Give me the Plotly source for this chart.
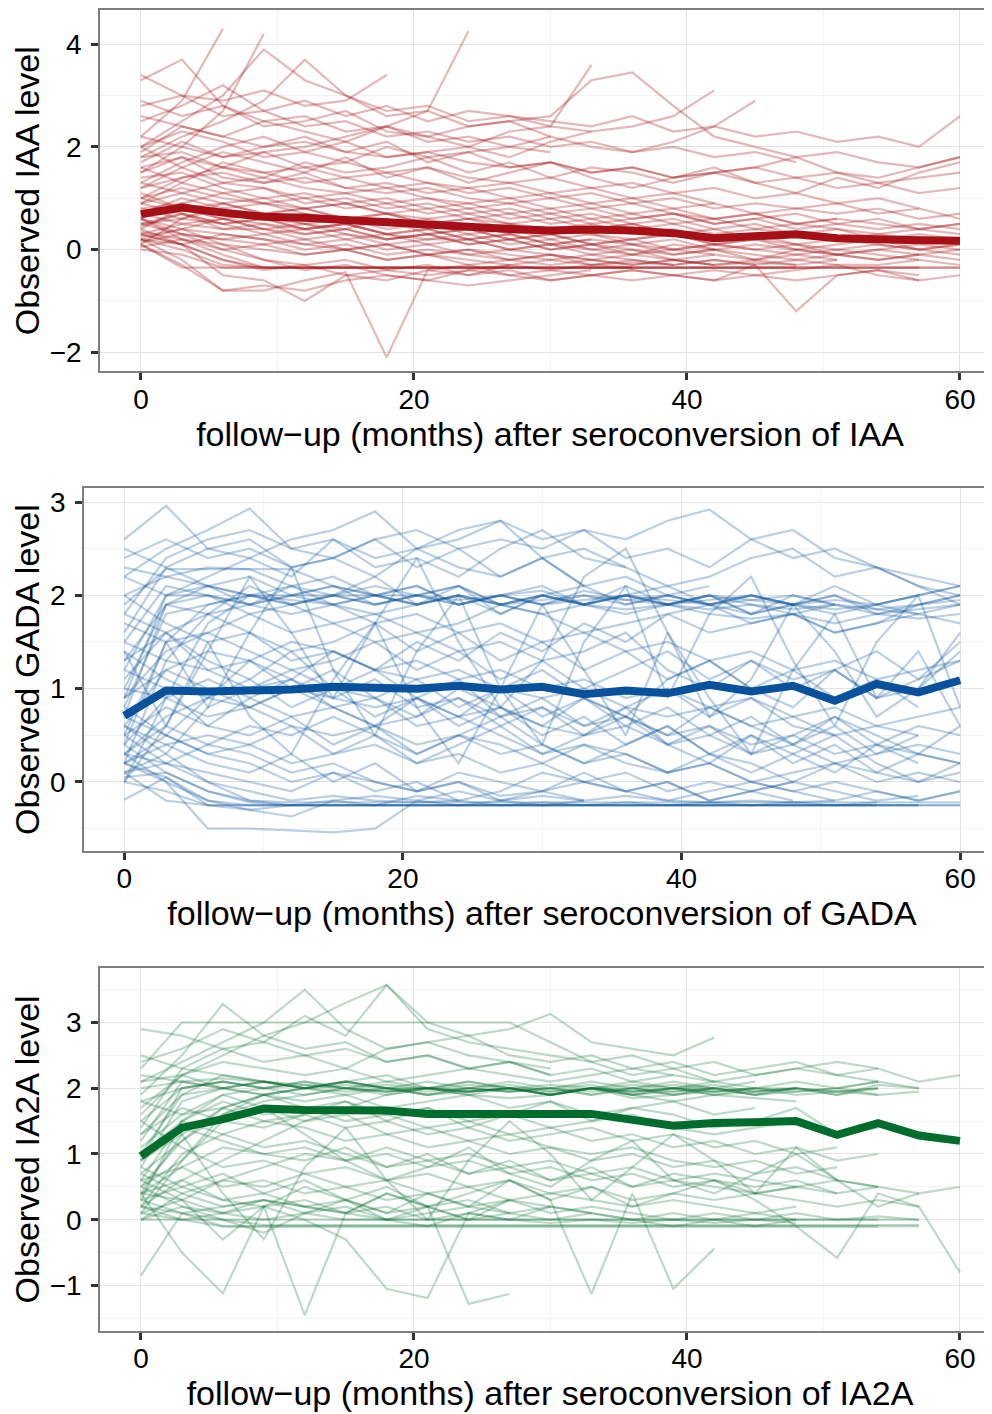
import plotly.graph_objects as go

# ---------------- data ----------------
MONTHS = [0, 3, 6, 9, 12, 15, 18, 21, 24, 27, 30, 33, 36, 39, 42, 45, 48, 51, 54, 57, 60]

IAA_MEAN = [0.69, 0.82, 0.72, 0.64, 0.62, 0.57, 0.52, 0.48, 0.44, 0.40, 0.37,
            0.39, 0.37, 0.32, 0.22, 0.27, 0.30, 0.22, 0.19, 0.18, 0.17]
GADA_MEAN = [0.71, 0.98, 0.97, 0.97, 0.99, 1.02, 1.01, 1.00, 1.03, 0.99, 1.02,
             0.94, 0.98, 0.95, 1.04, 0.97, 1.03, 0.87, 1.05, 0.96, 1.09]
IA2A_MEAN = [0.97, 1.40, 1.53, 1.69, 1.67, 1.66, 1.66, 1.61, 1.62, 1.63, 1.61,
             1.61, 1.53, 1.43, 1.47, 1.50, 1.50, 1.29, 1.47, 1.28, 1.20]

IAA_SUBJECTS = [
    [0.0, -0.1, -0.35, -0.35, -0.35, -0.35, -0.35, -0.35, -0.35, -0.35, -0.35, -0.35, -0.35, -0.35, -0.35, -0.35, -0.35, -0.35, -0.35, -0.35, -0.35],
    [0.3, 0.1, -0.2, -0.35, -0.35, -0.35, -0.35, -0.35, -0.35, -0.35, -0.35, -0.35, -0.35, -0.35, -0.35, -0.35, -0.35, -0.35, -0.35, -0.35, -0.35],
    [0.1, -0.35, -0.35, -0.35, -0.35, -0.35, -0.35, -0.35, -0.35, -0.35, -0.35, -0.35, -0.35, -0.35, -0.35, -0.35, -0.35],
    [0.6, 0.2, -0.1, -0.35, -0.35, -0.35, -0.35, -0.35, -0.35, -0.35, -0.35, -0.35, -0.35, -0.35, -0.35, -0.35, -0.35, -0.35, -0.35, -0.35],
    [0.2, 0.0, -0.3, -0.35, -0.35, -0.35, -0.35, -0.35, -0.35, -0.35, -0.35, -0.35, -0.35],
    [0.4, 0.1, -0.2, -0.4, -0.3, -0.5, -0.4, -0.3, -0.5, -0.4, -0.6, -0.5, -0.4, -0.5, -0.6, -0.5, -0.6, -0.5, -0.4, -0.5],
    [0.5, 0.3, 0.0, -0.2, -0.3, -0.2, -0.4, -0.5, -0.4, -0.3, -0.4, -0.5, -0.6, -0.5, -0.4, -0.5, -0.4, -0.3, -0.5, -0.6, -0.5],
    [0.2, -0.2, -0.8, -0.8, -0.6, -0.44, -2.1, -0.4, -0.3, -0.5, -0.4, -0.3, -0.35],
    [0.3, 0.1, -0.5, -0.6, -1.0, -0.5, -0.6, -0.4, -0.5, -0.3],
    [0.1, -0.3, -0.8, -0.7, -0.8, -0.6, -0.5, -0.6, -0.7, -0.6, -0.5, -0.4],
    [0.6, 0.4, 0.1, -0.2, -0.4, -0.3, -0.5, -0.6, -0.4, -0.5, -0.6, -0.5, -0.4, -0.5, -0.6, -0.3, -1.2, -0.5, -0.4, -0.6],
    [0.8, 0.9, 0.7, 0.6, 0.5, 0.6, 0.4, 0.5, 0.3, 0.4, 0.2, 0.3, 0.1, 0.2, 0.0, 0.1, 0.0, -0.1, 0.0, -0.1, 0.0],
    [0.5, 0.6, 0.5, 0.3, 0.4, 0.2, 0.3, 0.1, 0.2, 0.0, 0.1, -0.1, 0.0, -0.2, -0.1, -0.2, -0.1, -0.2],
    [1.0, 1.2, 1.0, 0.9, 0.8, 0.9, 0.7, 0.8, 0.6, 0.7, 0.5, 0.6, 0.4, 0.5, 0.3, 0.4, 0.3, 0.2, 0.3, 0.2, 0.2],
    [0.3, 0.5, 0.4, 0.4, 0.2, 0.3, 0.1, 0.2, 0.2, 0.0, 0.1, 0.0, -0.1, 0.1, 0.0, -0.2, 0.0, -0.1, -0.2, -0.1],
    [1.4, 1.5, 1.2, 1.0, 1.1, 0.9, 1.0, 0.8, 0.9, 0.7, 0.8, 0.6, 0.7, 0.5, 0.6, 0.4, 0.5, 0.4, 0.3, 0.4, 0.3],
    [0.2, 0.4, 0.3, 0.2, 0.1, 0.2, 0.0, 0.1, -0.1, 0.0, -0.1, -0.2, -0.1, -0.2, -0.3, -0.2, -0.3],
    [0.7, 1.0, 0.8, 0.9, 0.7, 0.6, 0.7, 0.5, 0.6, 0.5, 0.4, 0.5, 0.3, 0.4, 0.2, 0.3],
    [1.8, 1.9, 1.6, 1.5, 1.3, 1.4, 1.2, 1.3, 1.1, 1.2, 1.0, 1.1, 0.9, 1.0, 0.8, 0.9, 0.8, 0.7, 0.8, 0.6, 0.7],
    [0.9, 0.7, 0.5, 0.6, 0.4, 0.5, 0.3, 0.4, 0.2, 0.3, 0.1, 0.2, 0.1, 0.0, 0.1, 0.0, -0.1, 0.0, -0.1, -0.2],
    [1.2, 1.4, 1.5, 1.3, 1.4, 1.2, 1.1, 1.2, 1.0, 0.9, 1.0, 0.8, 0.9, 0.7, 0.6, 0.7, 0.5, 0.6],
    [0.4, 0.8, 0.6, 0.7, 0.5, 0.4, 0.6, 0.3, 0.4, 0.2, 0.3, 0.1, 0.2, 0.0, 0.1, 0.0, 0.1, -0.1, 0.0, 0.1, 0.0],
    [2.2, 2.0, 1.8, 1.9, 1.6, 1.7, 1.5, 1.6, 1.4, 1.3, 1.4, 1.2, 1.3, 1.1, 1.2, 1.0, 1.1, 0.9, 1.0, 0.8],
    [0.6, 0.3, 0.2, 0.3, 0.1, 0.0, 0.1, -0.1, 0.0, -0.2, -0.1, -0.3, -0.2, -0.3, -0.2, -0.3],
    [1.6, 1.3, 1.1, 1.2, 0.9, 1.0, 0.8, 0.9, 0.7, 0.8, 0.6, 0.7, 0.5, 0.6, 0.4, 0.5, 0.3, 0.4, 0.2, 0.3, 0.2],
    [0.1, 0.6, 0.9, 0.7, 0.8, 0.6, 0.7, 0.5, 0.6, 0.4],
    [1.1, 0.8, 0.6, 0.4, 0.5, 0.3, 0.2, 0.3, 0.1, 0.2, 0.0, 0.1, -0.1, 0.0, -0.1],
    [2.6, 2.4, 2.2, 2.0, 2.1, 1.9, 1.8, 1.9, 1.7, 1.6, 1.7, 1.5, 1.6, 1.4, 1.5, 1.3, 1.4, 1.2, 1.3, 1.1, 1.2],
    [0.9, 1.3, 1.7, 1.5, 1.6, 1.4, 1.5, 1.3, 1.2, 1.3, 1.1, 1.2, 1.0, 1.1, 0.9],
    [2.0, 2.3, 2.1, 1.8, 1.9, 1.7, 2.0, 1.8, 1.9, 1.6, 1.7, 1.5, 1.6, 1.4, 1.5, 1.6, 1.4, 1.5, 1.3, 1.4, 1.5],
    [3.4, 3.0, 2.6, 2.7, 2.4, 2.5, 2.2, 2.3, 2.1, 2.2, 2.0, 2.1, 1.9, 2.0, 1.8, 1.9, 1.7],
    [3.3, 3.7, 2.8, 2.5, 2.6, 2.3, 2.4, 2.1, 2.2, 2.0, 1.9],
    [2.2, 2.9, 4.3],
    [1.5, 2.0, 2.7, 4.2],
    [2.0, 2.5, 3.0, 3.9, 3.3, 3.0, 2.7, 2.8, 2.5, 2.6, 2.4, 2.3],
    [1.8, 2.2, 2.5, 2.9, 3.7, 3.0, 2.6, 2.7, 2.4, 2.5, 2.2],
    [2.8, 3.0, 2.9, 3.1, 2.8, 2.9, 3.4],
    [1.0, 1.4, 1.6, 1.9, 2.0, 2.2, 2.4, 2.7, 4.26],
    [2.5, 2.8, 3.2, 2.7, 2.9, 2.6, 2.8, 2.5, 2.7, 2.6, 2.5, 2.4, 2.6, 2.3, 2.4, 2.2, 2.3, 2.1, 2.2, 2.0, 2.6],
    [2.9, 2.6, 2.8, 2.4, 2.5, 2.7, 2.3, 2.2, 2.4, 2.5, 2.6, 3.3, 3.45, 2.8, 2.2, 2.0, 1.8, 1.9, 1.7, 1.6, 1.8],
    [1.9, 2.4, 2.2, 2.5, 2.3, 2.1, 2.4, 2.2, 2.0, 2.3, 2.4, 3.6],
    [1.3, 1.7, 2.0, 2.2, 1.9, 2.1, 1.8, 1.9, 2.0, 1.8, 2.1, 2.3, 2.4, 2.6, 3.1],
    [1.7, 2.1, 1.8, 2.0, 2.2, 1.9, 2.1, 1.7, 1.9, 2.0, 2.2, 2.0, 1.9, 2.1, 2.4, 2.9],
    [1.5, 1.8, 1.6, 1.4, 1.7, 1.5, 1.6, 1.8, 1.5, 1.7, 1.4, 1.6, 1.5, 1.3, 1.5, 1.6, 1.8, 1.5, 1.4, 1.6, 1.8],
    [1.2, 1.6, 1.9, 1.7, 1.5, 1.8, 1.4, 1.6, 1.3, 1.5, 1.7, 1.4, 1.2, 1.4, 1.6, 1.3, 1.1, 1.4, 1.2, 1.5, 1.7],
    [0.15, 0.3, 0.2, 0.1, 0.2, 0.0, 0.1, -0.1, 0.0, -0.1, -0.2, -0.1, -0.2, -0.3, -0.2, -0.3, -0.2, -0.3, -0.3, -0.2, -0.3],
    [0.5, 0.7, 0.4, 0.5, 0.3, 0.4, 0.2, 0.3, 0.4, 0.2, 0.3, 0.1, 0.2, 0.3, 0.1, 0.2, 0.0, 0.1, 0.2, 0.0, 0.1],
    [0.05, 0.2, 0.1, 0.0, -0.1, 0.0, -0.2, -0.1, -0.2, -0.3, -0.2, -0.3, -0.25, -0.3],
    [0.7, 0.5, 0.6, 0.4, 0.3, 0.4, 0.2, 0.3, 0.1, 0.2, 0.0, 0.1, 0.0, -0.1, 0.0],
    [1.0, 0.8, 0.9, 0.7, 0.8, 0.6, 0.5, 0.6, 0.4, 0.5, 0.3, 0.4, 0.5, 0.3, 0.2, 0.3, 0.1, 0.2, 0.1, 0.0, 0.1],
    [0.25, 0.4, 0.6, 0.5, 0.4, 0.5, 0.3, 0.4, 0.2, 0.3, 0.1, 0.2],
    [0.6, 0.9, 1.1, 0.9, 1.0, 0.8, 0.9, 0.7, 0.8, 0.6, 0.7, 0.5, 0.6, 0.7, 0.5, 0.6, 0.4, 0.5, 0.6, 0.4, 0.5],
    [0.35, 0.2, 0.0, 0.1, -0.1, 0.0, -0.2, -0.1, -0.3, -0.2, -0.3, -0.2, -0.3, -0.2, -0.3, -0.25, -0.3, -0.2],
    [1.3, 1.1, 0.9, 1.0, 0.8, 0.9, 0.7, 0.6, 0.7, 0.5, 0.6, 0.4, 0.5, 0.3, 0.4, 0.2, 0.3, 0.2],
    [0.8, 0.6, 0.8, 0.6, 0.7, 0.5, 0.6, 0.4, 0.5, 0.3, 0.4, 0.3, 0.2, 0.3, 0.1, 0.2, 0.1, 0.0, 0.1, 0.0, -0.1],
    [0.45, 0.7, 0.5, 0.6, 0.4, 0.5, 0.3, 0.2, 0.3, 0.1, 0.2, 0.0, 0.1, -0.1, 0.0, -0.1, -0.2, -0.1, -0.2, -0.1, -0.2],
    [1.6, 1.8, 1.4, 1.3, 1.5, 1.2, 1.3, 1.1, 1.2, 1.0, 1.1, 0.9, 1.0, 0.8, 0.9, 0.7, 0.8, 0.9, 0.7, 0.8, 0.6],
    [2.0, 1.6, 1.3, 1.4, 1.2, 1.1, 1.2, 1.0, 0.9, 1.0, 0.8, 0.9, 0.7, 0.8, 0.6, 0.7, 0.5, 0.6, 0.5, 0.4, 0.5],
    [0.9, 1.1, 1.3, 1.2, 1.0, 1.1, 0.9, 1.0, 0.8, 0.9, 0.7, 0.8, 0.6, 0.7, 0.5, 0.6, 0.7, 0.5, 0.4, 0.5, 0.4],
    [0.2, 0.1, 0.3, 0.2, 0.0, 0.1, -0.1, 0.0, -0.1, -0.2, -0.1, -0.2, -0.3, -0.2, -0.3],
]

GADA_SUBJECTS = [
    [0.0, -0.1, -0.25, -0.25, -0.25, -0.25, -0.25, -0.25, -0.25, -0.25, -0.25, -0.25, -0.25, -0.25, -0.25, -0.25, -0.25, -0.25, -0.25, -0.25, -0.25],
    [0.2, 0.0, -0.2, -0.25, -0.25, -0.25, -0.25, -0.25, -0.25, -0.25, -0.25, -0.25, -0.25, -0.25, -0.25, -0.25, -0.25, -0.25, -0.25, -0.25],
    [0.4, 0.1, -0.1, -0.22, -0.25, -0.25, -0.25, -0.25, -0.25, -0.25, -0.25, -0.25, -0.25, -0.25, -0.25, -0.25, -0.25, -0.25, -0.25, -0.25, -0.25],
    [0.1, -0.2, -0.25, -0.25, -0.25, -0.25, -0.25, -0.25, -0.25, -0.25, -0.25, -0.25, -0.25, -0.25, -0.25, -0.25, -0.25, -0.25, -0.25],
    [0.6, 0.3, 0.0, -0.2, -0.22, -0.22, -0.22, -0.22, -0.22, -0.22, -0.22, -0.22, -0.22, -0.22, -0.22, -0.22, -0.22, -0.22, -0.22, -0.22, -0.22],
    [-0.19, 0.05, -0.2, -0.3, -0.25, -0.2, -0.15, -0.2, -0.1, -0.2, -0.15, -0.2],
    [0.3, 0.0, -0.5, -0.5, -0.52, -0.54, -0.5, -0.2, -0.25, -0.2, -0.25, -0.2],
    [0.2, 0.05, -0.25, -0.3, -0.37, -0.2, -0.25, -0.15, -0.2],
    [0.5, 0.2, 0.1, 0.0, -0.1, 0.1, 0.0, -0.1, 0.0, -0.2, -0.1, 0.0, -0.1, -0.2, -0.1, 0.0, -0.1, -0.2, -0.1, -0.2, -0.1],
    [0.8, 0.5, 0.3, 0.2, 0.0, 0.1, -0.1, 0.0, -0.2, -0.1, 0.1, 0.0, -0.1, 0.0, -0.2, -0.1, -0.2],
    [1.0, 0.9, 0.7, 0.8, 0.6, 0.5, 0.6, 0.4, 0.5, 0.3, 0.4, 0.2, 0.3, 0.1, 0.2, 0.0, 0.1, 0.2, 0.0, 0.1, 0.0],
    [0.3, 0.7, 0.9, 0.8, 1.0, 0.9, 1.1, 0.8, 0.9, 0.7, 0.8, 0.6, 0.7, 0.5, 0.6, 0.4, 0.5, 0.3, 0.4, 0.3, 0.2],
    [1.5, 1.3, 1.2, 1.0, 1.1, 0.9, 0.8, 0.9, 0.7, 0.8, 0.6, 0.5, 0.6, 0.4, 0.5, 0.3, 0.4, 0.2, 0.3, 0.4, 0.3],
    [0.6, 1.2, 1.4, 1.3, 1.5, 1.4, 1.2, 1.3, 1.1, 1.2, 1.0, 1.1, 0.9, 1.0, 0.8, 0.9, 0.7, 0.8, 0.6, 0.7, 0.8],
    [0.2, 0.4, 0.5, 0.4, 0.6, 0.3, 0.4, 0.2, 0.3, 0.1, 0.2, 0.0, 0.1, -0.1, 0.0, -0.1, 0.0],
    [2.0, 1.7, 1.5, 1.6, 1.3, 1.4, 1.2, 1.1, 1.2, 1.0, 0.9, 1.0, 0.8, 0.7, 0.8, 0.6, 0.7, 0.5, 0.6, 0.5],
    [0.9, 1.4, 1.6, 1.8, 1.6, 1.7, 1.5, 1.6, 1.4, 1.5, 1.3, 1.4, 1.6, 1.2, 1.0, 1.3, 1.1, 1.2, 0.9, 1.1, 1.3],
    [0.1, 0.3, 0.8, 1.0, 1.2, 1.0, 0.9, 1.1, 0.8, 1.0, 0.7, 0.9, 0.6, 0.8, 0.5, 0.7, 0.4, 0.6, 0.3, 0.5],
    [1.2, 1.0, 0.6, 0.5, 0.7, 0.4, 0.6, 0.3, 0.5, 0.4, 0.2, 0.4, 0.3, 0.1, 0.3, 0.2, 0.0, 0.2, 0.1, 0.0, 0.1],
    [0.4, 0.9, 1.1, 0.9, 0.7, 0.8, 0.6, 0.7, 0.9, 0.6, 0.8, 0.5, 0.7, 0.4, 0.6, 0.3, 0.5, 0.7, 0.4, 0.6, 0.5],
    [1.7, 1.5, 1.6, 1.4, 1.2, 1.3, 1.5, 1.2, 1.4, 1.1, 1.3, 1.0, 1.2, 1.4, 1.1, 1.3, 1.0, 1.2, 0.9, 1.0, 1.4],
    [0.7, 0.5, 0.3, 0.4, 0.2, 0.3, 0.5, 0.2, 0.4, 0.6, 0.3, 0.5, 0.8, 0.4, 0.2, 0.5, 0.3, 0.1, 0.4, 0.2],
    [1.3, 1.6, 1.3, 1.1, 1.4, 1.0, 1.2, 0.9, 1.1, 0.7, 0.9, 0.6, 0.8, 1.0, 0.7, 0.9, 0.6, 0.5],
    [0.5, 0.8, 0.6, 0.9, 1.1, 0.8, 0.6, 0.9, 0.7, 1.0, 1.2, 0.9, 0.7, 1.1, 1.3, 1.0, 0.8, 1.2, 1.4, 1.1, 1.5],
    [1.2, 2.0, 2.0, 1.9, 2.0, 2.0, 1.9, 2.0, 1.95, 2.0, 1.9, 2.0, 1.95, 1.9, 2.0, 1.95, 1.9, 2.0, 1.85, 1.9, 1.95],
    [0.8, 1.8, 1.9, 2.0, 1.9, 2.0, 2.0, 1.9, 2.0, 1.9, 2.0, 1.9, 1.85, 1.9, 2.0, 1.9, 1.85, 1.9, 1.8, 1.85, 1.9],
    [1.5, 2.1, 2.0, 1.9, 2.1, 1.9, 2.0, 2.1, 1.9, 2.0, 2.05, 1.9, 2.0, 1.9, 1.95, 2.0, 1.9, 1.8, 1.9, 2.0, 2.1],
    [2.3, 2.2, 2.1, 2.0, 2.0, 2.1, 2.0, 2.0, 1.9, 2.0, 1.9, 1.95, 2.0, 1.9, 1.85, 1.9, 1.8, 1.9, 1.85, 1.8, 1.9],
    [0.5, 1.5, 1.9, 2.0, 1.95, 1.9, 2.0, 1.9, 2.0, 1.9, 1.95, 2.0, 1.9, 2.0, 1.9, 1.8, 1.9, 1.85, 1.9, 1.8],
    [1.9, 2.28, 2.28, 2.28, 2.28, 2.1, 2.0, 2.1, 1.9, 2.0, 2.1, 1.9, 2.0, 1.9, 2.0, 1.8, 1.9, 2.0, 1.8, 1.9, 2.0],
    [1.0, 1.9, 1.8, 1.9, 2.0, 1.9, 1.8, 1.9, 2.0, 1.9, 1.8, 1.9, 1.8, 1.9, 1.8, 1.75, 1.8, 1.7, 1.8, 1.75, 1.8],
    [2.5, 2.3, 2.1, 2.2, 2.0, 2.1, 1.9, 2.0, 2.1, 1.9, 2.0, 1.9, 2.0, 2.1, 1.9, 2.0, 1.9],
    [0.2, 1.3, 1.8, 2.1, 1.9, 2.0, 2.2, 1.9, 2.0, 1.8, 2.0, 2.1, 1.9, 2.0, 1.9, 2.0, 1.9, 2.1, 1.9, 2.0, 2.1],
    [2.6, 2.96, 2.5, 2.6, 2.3, 2.4, 2.2, 2.5, 2.3, 2.2, 2.4, 2.1, 2.2, 2.0, 2.1],
    [2.2, 2.5, 2.7, 2.93, 2.5, 2.4, 2.6, 2.3, 2.5, 2.2, 2.4, 2.1],
    [1.6, 2.3, 2.5, 2.4, 2.6, 2.7, 2.9, 2.5, 2.6, 2.8, 2.4, 2.5, 2.3],
    [2.4, 2.6, 2.4, 2.5, 2.3, 2.4, 2.6, 2.7, 2.5, 2.6, 2.5, 2.7, 2.6, 2.8, 2.92, 2.6, 2.4, 2.5, 2.3, 2.2, 2.1],
    [1.8, 2.4, 2.6, 2.7, 2.5, 2.6, 2.4, 2.5, 2.7, 2.8, 2.6, 2.7, 2.4, 2.5, 2.3, 2.6, 2.7, 2.4, 2.3, 2.1, 2.0],
    [0.9, 2.0, 2.2, 2.4, 2.2, 2.6, 2.3, 2.4, 2.2, 2.5, 2.7, 2.4, 2.3, 2.1, 2.2, 2.4, 2.5, 2.2, 2.3, 2.1, 1.9],
    [0.4, 1.5, 0.8, 1.6, 2.3, 1.2, 0.5, 1.4, 2.0, 1.0, 0.4, 1.5, 2.1, 0.9, 1.8, 2.2, 1.3, 0.6, 1.5, 2.0, 0.8],
    [1.4, 0.6, 1.5, 0.7, 0.3, 1.1, 1.7, 0.8, 0.2, 1.0, 1.9, 1.2, 0.5, 1.6, 0.9, 0.3, 1.2, 1.8, 0.9, 1.4, 0.6],
    [0.0, 0.6, 1.4, 2.2, 1.6, 0.9, 1.7, 2.4, 1.5, 0.8, 1.3, 2.2, 2.5, 1.6, 0.7, 1.1, 1.9, 1.4, 0.7, 1.0, 1.6],
    [0.3, 0.6, 0.4, 0.3, 0.1, 0.2, 0.0, -0.1, 0.0, -0.15, -0.1, -0.2, -0.15, -0.2, -0.22, -0.2, -0.22, -0.2],
    [0.1, 0.2, 0.0, -0.1, -0.2, -0.15, -0.2, -0.22, -0.2, -0.25, -0.22, -0.25, -0.22, -0.25, -0.22, -0.25, -0.22, -0.25, -0.22],
    [1.8, 1.6, 1.2, 1.3, 1.0, 0.8, 0.9, 0.6, 0.7, 0.5, 0.3, 0.4, 0.2, 0.1, 0.2, 0.0, -0.1, 0.0, -0.1, -0.2, -0.1],
    [0.0, 0.9, 1.7, 2.0, 2.1, 2.0, 1.9, 2.0, 2.1, 1.9, 2.0, 1.9, 2.0, 1.95, 1.9, 2.0, 1.9, 1.95, 1.9, 2.0],
    [0.7, 1.9, 2.1, 2.0, 1.9, 2.0, 2.1, 2.0, 1.9, 2.0, 1.9, 2.05, 1.95, 2.0, 1.9, 1.95, 2.0, 1.9],
    [2.2, 2.0, 2.1, 1.9, 1.8, 1.9, 1.7, 1.8, 1.6, 1.7, 1.5, 1.6, 1.4, 1.5, 1.3, 1.4, 1.2, 1.3, 1.1, 1.2, 1.3],
    [1.1, 1.6, 1.8, 1.6, 1.4, 1.5, 1.7, 1.4, 1.6, 1.3, 1.5, 1.2, 1.4, 1.1, 1.3, 1.0, 1.2, 0.9, 1.1, 0.8],
    [0.2, 0.5, 0.9, 1.3, 1.1, 1.4, 1.2, 1.5, 1.3, 1.6, 1.4, 1.7, 1.5, 1.8, 1.6, 1.7, 1.8, 1.6, 1.7, 1.8, 1.7],
    [0.6, 0.4, 0.2, 0.1, 0.3, 0.0, 0.2, -0.1, 0.1, 0.0, -0.1, 0.1, -0.1, 0.0, -0.2, -0.1, 0.0, -0.1, -0.2, -0.15],
    [1.4, 1.1, 0.9, 1.1, 0.8, 1.0, 0.7, 0.9, 0.6, 0.8, 0.5, 0.7, 0.4, 0.6, 0.3, 0.5, 0.2, 0.4, 0.1, 0.3, 0.2],
    [0.9, 1.2, 1.0, 0.8, 1.0, 1.2, 0.9, 0.7, 1.0, 0.8, 0.6, 0.9, 0.7, 0.5, 0.8, 0.6, 0.4, 0.7, 0.5, 0.3, 0.6],
    [0.3, 0.2, 0.4, 0.6, 0.5, 0.7, 0.5, 0.3, 0.5, 0.7, 0.4, 0.2, 0.4, 0.6, 0.3, 0.1, 0.3, 0.5, 0.2, 0.0, 0.2],
    [2.0, 2.2, 2.3, 2.28, 2.1, 2.2, 2.0, 1.9, 2.1, 1.8, 2.0, 1.9, 2.1, 1.9, 2.0, 1.8, 2.0, 1.9],
    [1.3, 1.9, 2.0, 1.8, 1.9, 1.7, 1.8, 1.6, 1.7, 1.9, 1.8, 1.6, 1.7, 1.8, 1.9, 1.7, 1.8, 1.6, 1.7, 1.9, 2.0],
    [0.05, 0.1, -0.1, -0.2, -0.25, -0.25, -0.25, -0.25, -0.25, -0.25, -0.25, -0.25, -0.25, -0.25, -0.25, -0.25, -0.25, -0.25, -0.25, -0.25],
]

IA2A_SUBJECTS = [
    [1.5, 2.0, 2.1, 2.0, 2.05, 2.0, 1.95, 2.0, 2.0, 1.95, 2.0, 1.9, 2.0, 1.95, 2.0, 1.9, 1.95, 2.0, 1.9, 1.95],
    [2.0, 2.1, 2.0, 2.1, 2.0, 2.05, 2.0, 2.1, 2.0, 1.95, 2.0, 2.05, 1.9, 2.0, 1.95, 2.0, 1.9, 1.95, 2.0],
    [0.8, 1.8, 2.0, 2.1, 2.0, 1.95, 2.0, 1.9, 2.0, 2.05, 1.95, 2.0, 1.9, 1.95, 2.0, 1.9, 2.0, 1.95, 1.9],
    [1.2, 2.1, 2.15, 2.1, 2.0, 2.1, 2.0, 1.95, 2.0, 2.1, 2.0, 1.95, 2.0, 2.1, 2.0, 1.9, 2.0],
    [0.3, 1.5, 1.9, 2.0, 2.1, 2.0, 1.9, 2.0, 1.95, 2.0, 1.9, 2.0, 2.05, 2.0, 1.9, 2.0, 1.95, 2.0, 2.1, 2.0],
    [2.2, 2.1, 2.0, 1.9, 2.0, 2.1, 2.0, 2.0, 1.9, 2.0, 2.05, 2.0, 1.95, 2.0, 2.1, 2.0, 2.0, 1.95, 2.0],
    [1.8, 2.0, 2.1, 2.0, 1.9, 2.0, 2.05, 2.0, 1.95, 2.0, 1.9, 2.0, 2.0, 1.9, 1.95, 2.0],
    [0.5, 1.2, 1.7, 1.9, 2.0, 2.1, 2.0, 1.9, 2.0, 1.95, 2.0, 2.1, 2.0, 1.9, 2.0, 1.95, 2.0, 1.9, 2.05, 2.0],
    [1.0, 1.9, 2.2, 2.1, 2.0, 1.9, 2.0, 2.0, 2.1, 2.0, 1.9, 2.0, 1.95, 2.0, 2.0, 2.1],
    [1.6, 2.2, 2.0, 2.1, 2.05, 2.0, 2.1, 2.0, 1.95, 2.0, 2.0, 1.9, 2.0, 2.05, 2.0],
    [2.5, 2.3, 2.2, 2.1, 2.0, 2.1, 2.2, 2.0, 2.1, 2.0, 1.9, 2.0, 2.1, 2.0, 1.95, 2.0, 2.1, 2.0, 2.1],
    [0.1, 0.9, 1.6, 1.8, 1.9, 2.0, 1.95, 2.0, 1.9, 1.85, 1.9, 2.0, 1.9, 1.8, 1.9, 1.85, 1.8],
    [2.9, 2.8, 2.6, 2.7, 2.5, 2.6, 2.4, 2.5, 2.3, 2.4, 2.2, 2.3, 2.1, 2.2],
    [2.3, 3.0, 3.0, 3.0, 3.0, 3.0, 3.0, 3.0, 3.0, 3.0, 2.7, 2.4, 2.2, 2.3, 2.1],
    [1.9, 2.5, 3.28, 2.8, 2.6, 2.7, 2.4, 2.5, 2.3, 2.4, 2.2],
    [2.1, 2.4, 2.7, 3.0, 3.5, 2.9, 2.6, 2.7, 2.5, 2.4, 2.3],
    [1.7, 2.2, 2.5, 2.8, 3.0, 3.3, 3.57, 3.0, 2.8, 2.9, 3.13, 2.7, 2.6, 2.5, 2.77],
    [2.4, 2.6, 2.9, 2.7, 3.1, 2.8, 3.57, 2.9, 2.7, 2.6, 2.5, 2.4, 2.5, 2.3, 2.4, 2.2, 2.3, 2.4, 2.3],
    [1.4, 2.3, 2.6, 2.4, 2.5, 2.3, 2.6, 2.7, 2.8, 2.5, 2.4, 2.5, 2.3, 2.4, 2.2, 2.3, 2.4, 2.2, 2.3, 2.1, 2.2],
    [0.6, 1.5, 1.8, 1.6, 1.7, 1.5, 1.6, 1.4, 1.5, 1.3, 1.4, 1.2, 1.3, 1.1, 1.2, 1.0, 1.1, 0.9, 1.0],
    [0.2, 1.0, 1.3, 1.5, 1.4, 1.2, 1.3, 1.1, 1.2, 1.0, 1.1, 0.9, 1.0, 0.8, 0.9, 0.7, 0.8, 0.6],
    [1.3, 1.7, 1.5, 1.4, 1.6, 1.8, 1.5, 1.7, 1.4, 1.6, 1.8, 1.5, 1.7, 1.6, 1.4, 1.5, 1.7, 1.3],
    [0.4, 0.8, 1.1, 1.0, 0.9, 1.1, 0.8, 1.0, 0.7, 0.9, 0.6, 0.8, 0.5, 0.7, 0.6, 0.5, 0.6, 0.4, 0.5, 0.4, 0.5],
    [0.9, 1.4, 1.2, 1.0, 1.1, 0.9, 1.0, 0.8, 0.9, 0.7, 0.8, 0.6, 0.7, 0.5, 0.6, 0.4, 0.5],
    [0.0, 0.4, 0.6, 0.5, 0.7, 0.5, 0.6, 0.4, 0.5, 0.3, 0.4, 0.3, 0.2, 0.3, 0.2, 0.1, 0.2],
    [1.1, 1.6, 1.9, 1.7, 1.5, 1.6, 1.3, 1.4, 1.2, 1.3, 1.1, 1.0, 1.1, 0.9, 0.8, 0.9, 0.7, 0.8],
    [0.3, 0.5, 0.3, 0.4, 0.2, 0.3, 0.1, 0.2, 0.0, 0.1, 0.2, 0.1, 0.0, 0.1, 0.0, 0.1, 0.0],
    [0.7, 1.2, 1.6, 1.9, 1.7, 1.8, 1.6, 1.7, 1.5, 1.6, 1.4, 1.5, 1.6, 1.4, 1.3, 1.4, 1.5, 1.3, 1.4],
    [1.5, 1.1, 0.8, 0.9, 0.7, 0.8, 0.6, 0.7, 0.5, 0.6, 0.4, 0.5, 0.3, 0.4, 0.3, 0.4, 0.3, 0.2, 0.3, 0.2],
    [0.5, 0.9, 1.5, 1.7, 1.3, 0.9, 0.6, 0.8, 1.1, 0.7, 0.5, 0.9, 1.2, 0.6, 0.4, 0.7, 1.0, 0.6, 0.5],
    [0.1, 0.0, -0.1, -0.1, -0.1, -0.1, -0.1, -0.1, -0.1, -0.1, -0.1, -0.1, -0.1, -0.1, -0.1, -0.1, -0.1, -0.1, -0.1, -0.1],
    [0.3, 0.1, -0.1, -0.1, -0.1, -0.1, -0.1, -0.1, -0.1, -0.1, -0.1, -0.1, -0.1, -0.1, -0.1, -0.1, -0.1, -0.1, -0.1],
    [0.0, 0.0, 0.0, 0.0, 0.0, 0.0, 0.0, 0.0, 0.0, 0.0, 0.0, 0.0, 0.0, 0.0, 0.0, 0.0, 0.0, 0.0, 0.0, 0.0],
    [0.5, 0.2, 0.0, -0.08, -0.08, -0.08, -0.08, -0.08, -0.08, -0.08, -0.08, -0.08, -0.08, -0.08, -0.08, -0.08, -0.08, -0.08, -0.08, -0.08],
    [-0.85, 0.1, 0.2, 0.3, 0.2, 0.1, 0.0, -0.1, 0.1, 0.0, 0.2, 0.1],
    [0.4, -0.5, -1.12, 0.2, 0.3, 0.1, 0.4, 0.2, 0.0, 0.3],
    [0.6, 0.3, -0.3, 0.2, -1.45, 0.1, 0.4, 0.2, 0.3, 0.1],
    [0.4, 0.3, 0.1, 0.2, 0.0, -0.3, -1.05, -1.19, 0.1, 0.3, 0.2],
    [0.2, 0.1, 0.0, -0.2, 0.1, 0.3, 0.0, 0.2, -1.28, -1.13],
    [0.4, 0.6, 0.3, 0.2, 0.5, 0.3, 0.1, 0.4, 0.2, 0.6, 0.3, -1.13, 0.4, -1.05, -0.44],
    [0.8, 0.5, 0.7, 0.4, 0.6, 0.3, 0.5, 0.2, 0.4, 0.6, 0.3, 0.5, 0.2, 0.4, 0.6, 0.3, -0.1, -0.58, 0.4, 0.2, -0.8],
    [0.9, 1.3, 0.4, -0.3, 0.8, 1.4, 0.6, 0.0, 0.9, 1.5, 1.0, 0.3, 0.8, 1.3, 0.9, 0.4, 1.1, 0.6, 0.2, 0.4],
    [0.2, 0.6, 0.9, 1.2, 1.5, 1.7, 1.9, 2.0, 1.95, 2.0, 1.9, 2.0, 1.95, 2.0, 1.9, 1.95, 2.0],
    [0.9, 2.0, 2.1, 2.0, 2.1, 2.0, 1.95, 2.0, 2.05, 2.0, 1.95, 2.0, 1.9, 2.0, 2.05, 1.95, 2.0, 1.9, 2.0],
    [1.3, 1.9, 2.0, 1.9, 2.0, 2.1, 2.0, 1.9, 1.95, 2.0, 1.9, 2.0, 1.85, 1.9, 2.0],
    [0.0, 0.2, 0.1, 0.3, 0.2, 0.1, 0.2, 0.0, 0.1, 0.0, -0.05, 0.0, -0.05, 0.0, -0.05, 0.0, -0.05],
    [0.6, 0.8, 0.5, 0.6, 0.4, 0.5, 0.3, 0.4, 0.2, 0.3, 0.1, 0.2, 0.1, 0.0, 0.1, 0.0, 0.1, 0.0, 0.05, 0.0],
    [1.8, 1.6, 1.7, 1.5, 1.6, 1.4, 1.5, 1.3, 1.4, 1.2, 1.3, 1.4, 1.2, 1.3, 1.1, 1.2, 1.0, 1.1],
    [0.4, 1.3, 1.7, 1.9, 1.8, 1.9, 1.7, 1.8, 1.9, 1.7, 1.8, 1.6, 1.7, 1.8, 1.6, 1.7],
    [0.1, 0.3, 0.6, 0.8, 1.0, 0.9, 1.1, 0.9, 1.0, 0.8, 0.9, 0.7, 0.8, 0.6, 0.7, 0.6, 0.5, 0.6, 0.5],
    [2.1, 2.2, 2.4, 2.3, 2.2, 2.3, 2.1, 2.2, 2.3, 2.2, 2.1, 2.2, 2.3, 2.2, 2.1, 2.2, 2.3, 2.2, 2.1],
    [0.2, 0.0, 0.1, 0.0, 0.1, 0.0, 0.0, 0.0, 0.0, 0.0, 0.0, 0.0, 0.0, 0.0, 0.0, 0.0, 0.0, 0.0, 0.0],
    [1.0, 1.5, 1.3, 1.1, 1.2, 1.0, 0.8, 0.9, 0.7, 0.8, 0.6, 0.7, 0.5, 0.6, 0.5, 0.4, 0.5, 0.4],
    [0.7, 0.4, 0.2, 0.3, 0.1, 0.2, 0.0, 0.1, 0.2, 0.1, 0.0, 0.1, 0.0, -0.1, 0.0, -0.1, 0.0],
]

Y_TITLES = ["Observed IAA level", "Observed GADA level", "Observed IA2A level"]
X_TITLES = ["follow\u2212up (months) after seroconversion of IAA",
            "follow\u2212up (months) after seroconversion of GADA",
            "follow\u2212up (months) after seroconversion of IA2A"]

# ---------------- styling / layout ----------------
# The page body has an 8px margin, so the figure's own pixel grid is offset by 8px.
COLORS = [(165, 15, 21), (8, 81, 156), (0, 109, 44)]
THIN_ALPHA = [0.3, 0.28, 0.26]
X_DOMAINS = [[0.09274, 1.0], [0.07661, 1.0], [0.09274, 1.0]]
Y_DOMAINS = [[0.74399, 1.0], [0.40453, 0.66124], [0.06457, 0.32157]]
X_RANGES = [[-3.0, 62.93], [-2.89, 62.86], [-3.0, 62.93]]
Y_RANGES = [[-2.375, 4.667], [-0.738, 3.147], [-1.69, 3.83]]
Y_DTICK = [2, 1, 1]

FONT = "Liberation Sans, Arial, Helvetica, sans-serif"

fig = go.Figure()
panels = [(IAA_SUBJECTS, IAA_MEAN), (GADA_SUBJECTS, GADA_MEAN), (IA2A_SUBJECTS, IA2A_MEAN)]
for i, (subjects, mean) in enumerate(panels):
    ax = "" if i == 0 else str(i + 1)
    r, g, b = COLORS[i]
    thin = f"rgba({r},{g},{b},{THIN_ALPHA[i]})"
    for traj in subjects:
        fig.add_trace(go.Scatter(x=MONTHS[:len(traj)], y=traj, mode="lines",
                                 line=dict(color=thin, width=2.2),
                                 xaxis="x" + ax, yaxis="y" + ax,
                                 hoverinfo="skip", showlegend=False))
    fig.add_trace(go.Scatter(x=MONTHS, y=mean, mode="lines",
                             line=dict(color=f"rgb({r},{g},{b})", width=8),
                             xaxis="x" + ax, yaxis="y" + ax, showlegend=False))

layout = dict(width=992, height=1414, margin=dict(l=0, r=0, t=0, b=0),
              paper_bgcolor="white", plot_bgcolor="white", showlegend=False,
              font=dict(family=FONT, color="black", size=28))
for i in range(3):
    ax = "" if i == 0 else str(i + 1)
    layout["xaxis" + ax] = dict(
        domain=X_DOMAINS[i], range=X_RANGES[i], anchor="y" + ax,
        tick0=0, dtick=20, ticks="outside", ticklen=7, tickwidth=2.5, tickcolor="#333333",
        ticklabelstandoff=-5,
        showline=True, linecolor="#7f7f7f", linewidth=1.5, mirror=True,
        showgrid=True, gridcolor="#e3e3e3", gridwidth=1.2, zeroline=False,
        minor=dict(dtick=10, tick0=0, showgrid=True, gridcolor="#f3f3f3", gridwidth=1),
        tickfont=dict(size=28, color="black"),
        title=dict(text=X_TITLES[i], font=dict(size=34, color="black"), standoff=2),
    )
    layout["yaxis" + ax] = dict(
        domain=Y_DOMAINS[i], range=Y_RANGES[i], anchor="x" + ax,
        tick0=0, dtick=Y_DTICK[i], ticks="outside", ticklen=7, tickwidth=2.5, tickcolor="#333333",
        ticklabelstandoff=4,
        showline=True, linecolor="#7f7f7f", linewidth=1.5, mirror=False,
        showgrid=True, gridcolor="#e3e3e3", gridwidth=1.2, zeroline=False,
        minor=dict(dtick=Y_DTICK[i] / 2, tick0=0, showgrid=True, gridcolor="#f3f3f3", gridwidth=1),
        tickfont=dict(size=28, color="black"),
        title=dict(text=Y_TITLES[i], font=dict(size=34, color="black"), standoff=5),
    )
fig.update_layout(**layout)
fig.write_html("out.html")
